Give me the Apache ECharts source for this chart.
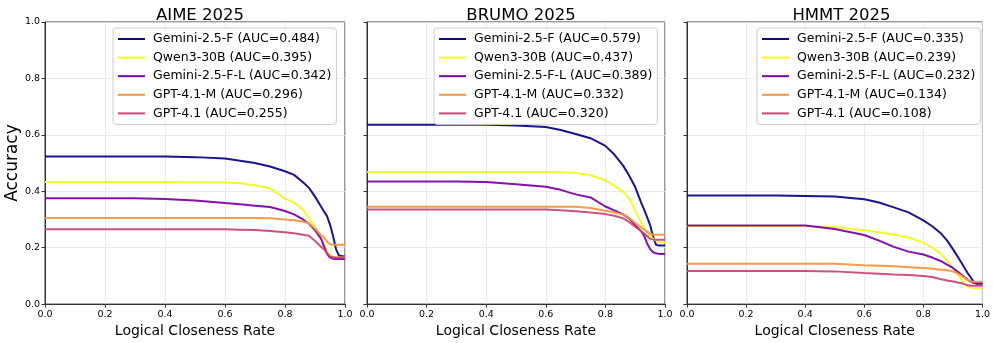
<!DOCTYPE html>
<html>
<head>
<meta charset="utf-8">
<script src="https://cdn.jsdelivr.net/npm/echarts@6/dist/echarts.min.js"></script>
<style>
  html, body { margin: 0; padding: 0; background: #fff; }
  #chart { width: 993px; height: 343px; }
</style>
</head>
<body>
<div id="chart"></div>
<script>
// logical closeness rate samples (shared x grid)
const xs = [0, 0.1, 0.2, 0.3, 0.4, 0.5, 0.6, 0.65, 0.7, 0.75, 0.8, 0.83, 0.86, 0.88, 0.9, 0.92, 0.93, 0.94, 0.95, 0.96, 0.97, 0.98, 1.0]

const models = ['Gemini-2.5-F', 'Qwen3-30B', 'Gemini-2.5-F-L', 'GPT-4.1-M', 'GPT-4.1']
const benchmarks = ['AIME 2025', 'BRUMO 2025', 'HMMT 2025']

// AUC values per benchmark
const aucAime = [0.484, 0.395, 0.342, 0.296, 0.255]
const aucBrumo = [0.579, 0.437, 0.389, 0.332, 0.320]
const aucHmmt = [0.335, 0.239, 0.232, 0.134, 0.108]

// AIME 2025
const aimeGemF = [.523,.523,.523,.523,.523,.521,.516,.508,.500,.488,.471,.458,.432,.412,.381,.346,.328,.312,.282,.242,.195,.172,.168]
const aimeQwen = [.433,.433,.433,.433,.433,.432,.431,.428,.421,.411,.374,.360,.335,.305,.271,.235,.215,.188,.172,.168,.166,.165,.165]
const aimeGemFL = [.375,.375,.375,.375,.373,.367,.358,.354,.349,.344,.330,.318,.300,.285,.262,.232,.205,.178,.165,.161,.160,.160,.160]
const aimeGptM = [.305,.305,.305,.305,.305,.305,.305,.305,.305,.304,.300,.297,.293,.286,.268,.245,.236,.222,.213,.210,.210,.210,.210]
const aimeGpt = [.265,.265,.265,.265,.265,.265,.265,.264,.263,.259,.255,.251,.246,.242,.224,.203,.195,.180,.170,.166,.165,.165,.165]

// BRUMO 2025
const brumoGemF = [.636,.636,.636,.636,.636,.633,.628,.617,.603,.588,.561,.530,.490,.455,.415,.360,.335,.308,.280,.240,.210,.208,.208]
const brumoQwen = [.468,.468,.468,.468,.468,.468,.468,.467,.465,.457,.439,.420,.398,.375,.330,.290,.268,.255,.243,.232,.225,.220,.218]
const brumoGemFL = [.435,.435,.435,.435,.433,.425,.416,.405,.389,.378,.346,.332,.318,.303,.280,.258,.242,.215,.195,.184,.180,.178,.178]
const brumoGptM = [.345,.345,.345,.345,.345,.345,.345,.345,.345,.341,.331,.325,.318,.305,.288,.272,.265,.257,.250,.247,.246,.246,.246]
const brumoGpt = [.335,.335,.335,.335,.335,.335,.335,.333,.329,.325,.319,.313,.304,.290,.274,.258,.250,.241,.232,.229,.228,.228,.228]

// HMMT 2025
const hmmtGemF = [.385,.385,.385,.385,.383,.381,.372,.360,.343,.325,.297,.276,.250,.226,.195,.162,.145,.127,.110,.095,.079,.072,.072]
const hmmtQwen = [.277,.277,.277,.277,.277,.273,.262,.255,.247,.236,.218,.200,.178,.155,.128,.100,.085,.072,.064,.058,.056,.056,.056]
const hmmtGemFL = [.279,.279,.279,.279,.279,.266,.245,.225,.203,.186,.176,.165,.152,.140,.128,.112,.104,.095,.086,.080,.075,.074,.074]
const hmmtGptM = [.143,.143,.143,.143,.143,.143,.138,.136,.134,.131,.128,.125,.122,.120,.116,.106,.100,.093,.085,.080,.079,.079,.079]
const hmmtGpt = [.117,.117,.117,.117,.117,.116,.110,.108,.105,.103,.100,.096,.088,.084,.080,.076,.074,.070,.067,.065,.065,.065,.065]

const panels = [
  { aucs: aucAime, lines: [aimeGemF, aimeQwen, aimeGemFL, aimeGptM, aimeGpt] },
  { aucs: aucBrumo, lines: [brumoGemF, brumoQwen, brumoGemFL, brumoGptM, brumoGpt] },
  { aucs: aucHmmt, lines: [hmmtGemF, hmmtQwen, hmmtGemFL, hmmtGptM, hmmtGpt] },
]

// plasma-ish colours
const colors = ['#0d0887', '#f0f921', '#7e03a8', '#f89540', '#cc4778']

const font = 'DejaVu Sans'
const gridPos = [
  { left: 45, width: 300 },
  { left: 367, width: 298 },
  { left: 687, width: 299 },
]
const legendPos = [113, 434, 757]

const chart = echarts.init(document.getElementById('chart'))

const grid = gridPos.map(g => ({
  left: g.left, width: g.width, top: 22, bottom: 33.5,
  show: true, borderColor: '#333', borderWidth: 1
}))

const title = benchmarks.map((b, i) => ({
  text: b,
  left: gridPos[i].left + gridPos[i].width / 2,
  top: 2,
  textAlign: 'center',
  textStyle: { fontFamily: font, fontSize: 16.5, fontWeight: 'normal', color: '#000' }
}))

const xAxis = gridPos.map((g, i) => ({
  type: 'value', gridIndex: i, min: 0, max: 1, interval: 0.2,
  name: 'Logical Closeness Rate', nameLocation: 'middle', nameGap: 14,
  nameTextStyle: { fontFamily: font, fontSize: 14, color: '#000' },
  axisLine: { show: true, lineStyle: { color: '#333', width: 1 } },
  axisTick: { show: true, length: 3.5, lineStyle: { color: '#333' } },
  axisLabel: { fontFamily: font, fontSize: 9.5, color: '#000', margin: 5,
    formatter: v => v.toFixed(1) },
  splitLine: { show: true, lineStyle: { color: '#e6e6e6', width: 0.8 } }
}))

const yAxis = gridPos.map((g, i) => ({
  type: 'value', gridIndex: i, min: 0, max: 1, interval: 0.2,
  name: i === 0 ? 'Accuracy' : '', nameLocation: 'middle', nameGap: 24,
  nameTextStyle: { fontFamily: font, fontSize: 17, color: '#000' },
  axisLine: { show: true, lineStyle: { color: '#333', width: 1 } },
  axisTick: { show: true, length: 3.5, lineStyle: { color: '#333' } },
  axisLabel: { show: i === 0, fontFamily: font, fontSize: 9.5, color: '#000', margin: 5,
    formatter: v => v.toFixed(1) },
  splitLine: { show: true, lineStyle: { color: '#e6e6e6', width: 0.8 } }
}))

const series = []
const legend = []
panels.forEach((p, i) => {
  const names = models.map((m, k) => `${m} (AUC=${p.aucs[k].toFixed(3)})`)
  names.forEach((name, k) => {
    series.push({
      name,
      type: 'line',
      xAxisIndex: i, yAxisIndex: i,
      data: xs.map((x, j) => [x, p.lines[k][j]]),
      symbol: 'none',
      lineStyle: { color: colors[k], width: 2, opacity: 0.95 },
      itemStyle: { color: colors[k] },
      animation: false
    })
  })
  legend.push({
    data: names,
    orient: 'vertical',
    left: legendPos[i], top: 28,
    icon: 'path://M0,0H27V2H0Z',
    itemWidth: 27, itemHeight: 2.2, itemGap: 4.6,
    padding: [4, 5, 4, 5],
    backgroundColor: 'rgba(255,255,255,0.85)',
    borderColor: '#cccccc', borderWidth: 1, borderRadius: 3,
    textStyle: { fontFamily: font, fontSize: 12.5, lineHeight: 14, color: '#000', padding: [0, 0, 0, 3] }
  })
})

chart.setOption({ animation: false, title, grid, xAxis, yAxis, legend, series })
</script>
</body>
</html>
